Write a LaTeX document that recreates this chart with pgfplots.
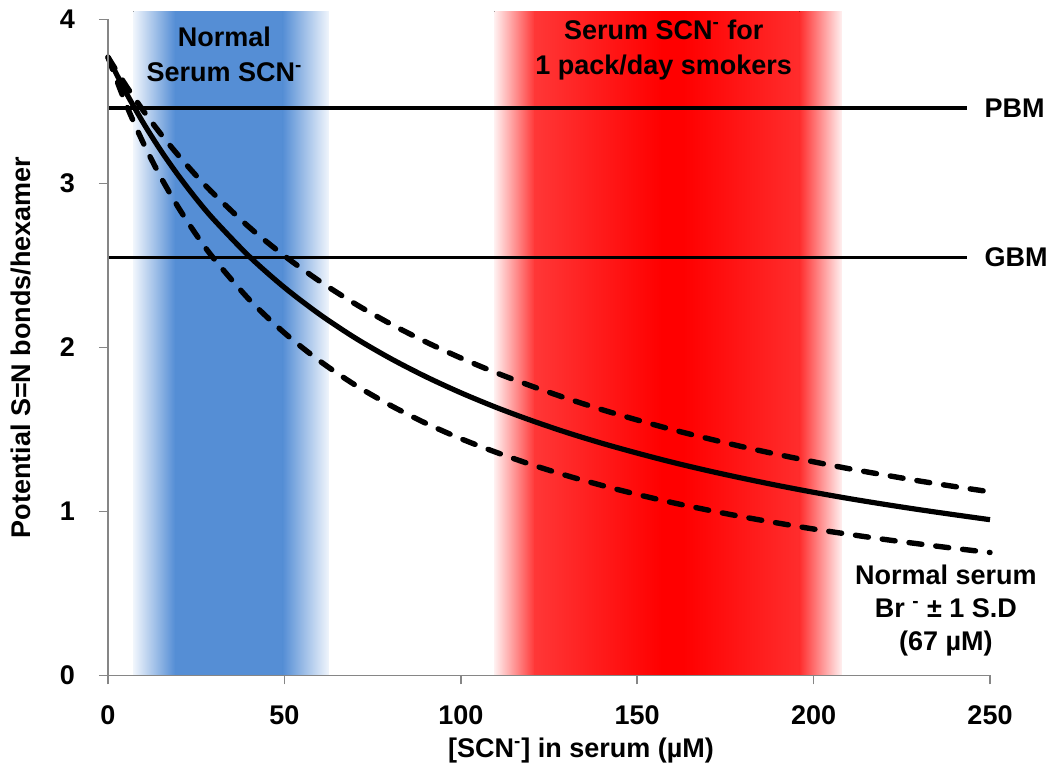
\documentclass[border=0pt]{standalone}
\usepackage{pgfplots}
\pgfplotsset{compat=1.18}
\usepackage{fontspec}
\setmainfont{Liberation Sans}
\definecolor{bandblue}{RGB}{85,142,213}
\definecolor{bandbluefade}{RGB}{240,245,252}
\definecolor{bandred}{RGB}{255,0,0}
\definecolor{bandredA}{RGB}{255,55,55}
\definecolor{bandredB}{RGB}{255,45,45}
\definecolor{bandredfade}{RGB}{255,240,240}
\definecolor{axgray}{RGB}{134,134,134}
\begin{document}
\begin{tikzpicture}
\begin{axis}[
  scale only axis,
  width=441pt, height=328pt,
  xmin=0, xmax=250, ymin=0, ymax=4,
  axis x line=bottom, axis y line=left,
  axis line style={-, axgray, line width=0.8pt},
  tick style={axgray, line width=0.8pt},
  tick align=outside, major tick length=4.5pt,
  xtick={0,50,100,150,200,250}, ytick={0,1,2,3,4},
  /pgf/number format/assume math mode=true,
  ticklabel style={font=\bfseries\fontsize{13.5}{16}\selectfont},
  xticklabel style={yshift=-7pt},
  yticklabel style={xshift=-8.5pt},
  xlabel={[SCN\textsuperscript{-}] in serum (µM)},
  ylabel={Potential S=N bonds/hexamer},
  label style={font=\bfseries\fontsize{13.5}{16}\selectfont},
  xlabel style={yshift=0pt, xshift=16pt},
  ylabel style={yshift=7.5pt},
  clip=false,
  axis on top,
]
\coordinate (aSW) at (rel axis cs:0,0);
\coordinate (aNE) at (rel axis cs:1,1);
% blue band
\fill[left color=bandbluefade, right color=bandblue] (7.2,0) rectangle (19,4.05);
\fill[bandblue] (18.9,0) rectangle (49.6,4.05);
\fill[left color=bandblue, right color=bandbluefade] (49.5,0) rectangle (62.6,4.05);
% red band
\fill[left color=bandredfade, right color=bandredA] (109.5,0) rectangle (121,4.05);
\fill[left color=bandredA, right color=bandred] (120.9,0) rectangle (157,4.05);
\fill[bandred] (156.9,0) rectangle (163.1,4.05);
\fill[left color=bandred, right color=bandredB] (163,0) rectangle (196.1,4.05);
\fill[left color=bandredB, right color=bandredfade] (196,0) rectangle (208,4.05);

% horizontal reference lines
\addplot[black, line width=1.6pt] coordinates {(0,3.46) (243.5,3.46)};
\addplot[black, line width=1.6pt] coordinates {(0,2.55) (243.5,2.55)};

% upper dashed
\addplot[black, line width=2.7pt, dash pattern=on 6.5pt off 7pt, line cap=round, smooth] coordinates {
(0,3.77) (5,3.600) (10,3.444) (15,3.301) (20,3.170) (25,3.048) (30,2.936) (40,2.734) (50,2.559)
(60,2.404) (70,2.267) (80,2.145) (90,2.035) (100,1.936) (110,1.846) (120,1.765) (130,1.690)
(140,1.621) (150,1.558) (160,1.499) (170,1.445) (180,1.394) (190,1.347) (200,1.303) (210,1.261)
(220,1.223) (230,1.186) (240,1.152) (250,1.120)};
% lower dashed
\addplot[black, line width=2.7pt, dash pattern=on 6.5pt off 7pt, line cap=round, smooth] coordinates {
(0,3.77) (5,3.489) (10,3.247) (15,3.037) (20,2.852) (25,2.688) (30,2.542) (40,2.293) (50,2.089)
(60,1.918) (70,1.772) (80,1.648) (90,1.539) (100,1.444) (110,1.361) (120,1.286) (130,1.219)
(140,1.159) (150,1.104) (160,1.054) (170,1.009) (180,0.967) (190,0.929) (200,0.893) (210,0.861)
(220,0.830) (230,0.802) (240,0.775) (250,0.750)};
% solid
\addplot[black, line width=2.6pt, smooth] coordinates {
(0,3.77) (5,3.559) (10,3.370) (15,3.200) (20,3.047) (25,2.907) (30,2.780) (40,2.556) (50,2.366)
(60,2.202) (70,2.059) (80,1.934) (90,1.823) (100,1.724) (110,1.635) (120,1.555) (130,1.482)
(140,1.416) (150,1.356) (160,1.300) (170,1.249) (180,1.202) (190,1.158) (200,1.117) (210,1.079)
(220,1.044) (230,1.011) (240,0.980) (250,0.950)};

\begin{scope}[every node/.style={font=\bfseries\fontsize{13.5}{17.5}\selectfont, align=center}]
\node at (33,3.785) {Normal\\Serum SCN\textsuperscript{-}};
\node at (157.5,3.815) {Serum SCN\textsuperscript{-} for\\1 pack/day smokers};
\node[anchor=west] at (246.5,3.46) {PBM};
\node[anchor=west] at (246.5,2.55) {GBM};
\node[font=\bfseries\fontsize{13.5}{16.5}\selectfont] at (237.5,0.395) {Normal serum\\Br \textsuperscript{-} ± 1 S.D\\(67 µM)};
\end{scope}
\end{axis}
\pgfresetboundingbox
\path ([shift={(-54pt,-46pt)}]aSW) rectangle ([shift={(31pt,9.75pt)}]aNE);
\end{tikzpicture}
\end{document}
